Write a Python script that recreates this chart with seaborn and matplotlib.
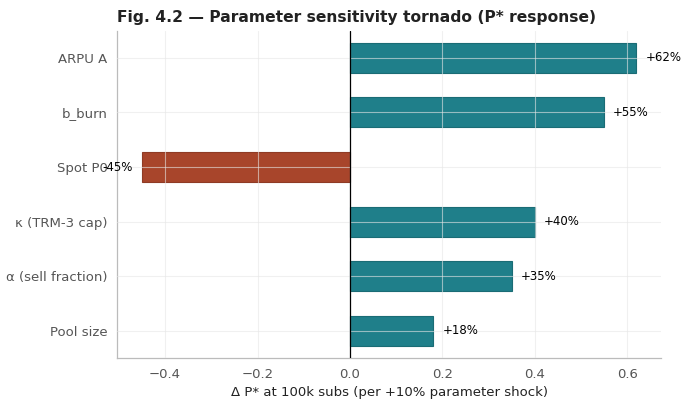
import matplotlib
matplotlib.use("Agg")
import matplotlib.pyplot as plt
import seaborn as sns
import pandas as pd

# tornado data, top to bottom
params = ["ARPU A", "b_burn", "Spot P0", "κ (TRM-3 cap)", "α (sell fraction)", "Pool size"]
delta_p = [0.62, 0.55, -0.45, 0.40, 0.35, 0.18]
labels = ["+62%", "+55%", "-45%", "+40%", "+35%", "+18%"]

TEAL = "#1f7f8a"
RUST = "#a8452b"

sns.set_theme(style="whitegrid")
plt.rcParams["font.family"] = ["DejaVu Sans"]

df = pd.DataFrame({"param": params, "delta": delta_p})
df["sign"] = ["pos" if v >= 0 else "neg" for v in delta_p]

fig, ax = plt.subplots(figsize=(6.9, 4.09), dpi=100)
sns.barplot(data=df, y="param", x="delta", hue="sign", orient="h",
            palette={"pos": TEAL, "neg": RUST}, width=0.55, legend=False,
            saturation=1, ax=ax)
for p in ax.patches:
    fc = p.get_facecolor()
    p.set_edgecolor((fc[0] * 0.85, fc[1] * 0.85, fc[2] * 0.85, 1))
    p.set_linewidth(0.8)

ax.axvline(0, color="black", lw=0.9, zorder=3)

for i, (v, lab) in enumerate(zip(delta_p, labels)):
    if v >= 0:
        ax.text(v + 0.02, i, lab, va="center", ha="left", fontsize=8.5, color="black")
    else:
        ax.text(v - 0.02, i, lab, va="center", ha="right", fontsize=8.5, color="black")

ax.set_axisbelow(False)
ax.grid(True, color="#e6e6e6", lw=0.8, alpha=0.6)
ax.margins(x=0.05)
ax.set_ylabel("")
ax.set_xlabel("Δ P* at 100k subs (per +10% parameter shock)", fontsize=9.5, color="#222222")
ax.set_title("Fig. 4.2 — Parameter sensitivity tornado (P* response)",
             fontsize=11.2, fontweight="bold", color="#222222", loc="left")
ax.tick_params(axis="both", labelsize=9.5, labelcolor="#555555", color="#bbbbbb",
               length=3.5, width=0.8, pad=3.5)
for s in ["top", "right"]:
    ax.spines[s].set_visible(False)
for s in ["left", "bottom"]:
    ax.spines[s].set_color("#bbbbbb")
    ax.spines[s].set_linewidth(0.9)

fig.subplots_adjust(left=0.17, right=0.958, top=0.925, bottom=0.125)
fig.savefig("out.png", dpi=100)
